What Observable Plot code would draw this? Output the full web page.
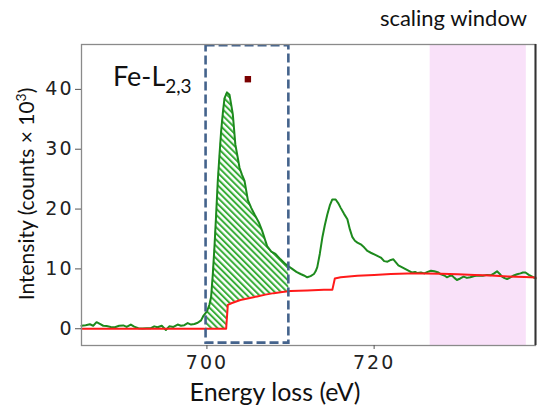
<!DOCTYPE html>
<html><head><meta charset="utf-8">
<script src="https://cdn.jsdelivr.net/npm/d3@7"></script>
<script src="https://cdn.jsdelivr.net/npm/@observablehq/plot@0.6"></script>
<style>
body{margin:0;background:#fff;}
#chart{position:relative;width:540px;height:408px;}
</style>
</head><body><div id="chart"></div>
<script>
// Green: measured spectrum (energy eV, intensity counts x 10^3)
const greenE = [685.0,685.5,686.0,686.4,686.8,687.2,687.6,688.0,688.5,689.0,689.5,690.0,690.4,690.9,691.3,691.8,692.3,692.8,693.3,693.7,694.1,694.6,695.1,695.5,696.0,696.5,696.9,697.3,697.7,698.1,698.5,698.9,699.3,699.6,700.0,700.3,700.5,700.7,700.9,701.1,701.3,701.5,701.7,701.9,702.1,702.4,702.7,702.9,703.1,703.4,703.7,703.9,704.2,704.5,704.9,705.3,705.7,706.2,706.6,707.2,707.7,708.2,708.8,709.4,709.8,710.2,710.7,711.2,711.6,712.0,712.4,712.8,713.0,713.2,713.5,713.8,714.1,714.4,714.7,715.0,715.4,715.7,716.0,716.4,716.8,717.1,717.4,717.7,718.0,718.4,718.8,719.2,719.6,720.2,720.8,721.2,721.6,722.0,722.3,722.6,722.9,723.3,723.7,724.1,724.5,724.9,725.2,725.6,726.0,726.4,726.8,727.2,727.6,728.0,728.4,728.7,729.0,729.3,729.6,729.9,730.3,730.7,731.1,731.5,732.0,732.5,733.0,733.5,734.0,734.4,734.7,735.0,735.3,735.6,735.9,736.3,736.7,737.1,737.5,737.8,738.1,738.5,738.9,739.3];
const greenI = [0.5,0.6,0.75,0.5,1.1,0.8,0.5,0.45,0.3,0.25,0.5,0.55,0.3,0.7,0.35,0.1,0.05,0.1,0.1,0.4,0.25,0.5,-0.2,0.4,0.3,0.7,0.5,0.6,0.95,0.7,0.8,1.0,1.4,2.2,2.9,4.0,5.3,9.0,13.6,19.0,24.7,29.0,33.0,36.0,38.5,39.5,39.1,37.5,35.8,30.8,28.5,26.9,25.7,24.7,21.5,20.2,19.1,17.8,16.4,13.8,12.9,12.5,11.6,10.8,10.4,10.0,9.5,9.15,8.9,8.6,8.8,9.15,9.6,10.3,12.5,15.2,17.3,19.1,20.6,21.6,21.6,21.0,20.2,19.2,18.3,16.6,15.3,14.7,14.4,14.1,13.6,13.0,12.7,12.3,11.9,11.3,11.2,11.5,11.6,11.1,10.6,10.3,10.0,9.7,9.4,9.5,9.3,9.4,9.25,9.5,9.7,9.6,9.45,9.1,8.9,8.6,8.8,8.9,8.5,8.15,8.4,8.7,8.5,8.6,8.8,8.9,8.85,9.0,8.95,9.3,9.6,9.2,8.7,8.45,8.3,8.6,8.9,9.1,9.25,9.4,9.4,9.0,8.7,8.4];
// Red: fitted background
const redE = [685.0,702.3,702.5,703.0,704.0,705.0,706.0,707.0,708.0,709.0,710.0,712.0,714.0,715.0,715.3,716.0,718.0,720.0,722.0,724.0,726.0,728.0,730.0,732.0,734.0,736.0,738.0,739.3];
const redI = [0,0,4.0,4.3,4.8,5.1,5.4,5.7,5.95,6.15,6.3,6.4,6.5,6.5,8.4,8.6,8.85,9.0,9.15,9.25,9.25,9.2,9.1,9.0,8.9,8.75,8.65,8.55];
// Integration window, scaling window, marker
const integWin = [699.9, 709.8];
const scaleWin = [726.7, 738.2];
const markerPt = [{e: 704.9, i: 41.7}];
const xTicks = [700, 720];
const yTicks = [0, 10, 20, 30, 40];

const green = greenE.map((e, k) => ({e, i: greenI[k]}));
const red = redE.map((e, k) => ({e, i: redI[k]}));
const interp = (xs, ys, x) => {
  const k = d3.bisectRight(xs, x);
  if (k <= 0) return ys[0];
  if (k >= xs.length) return ys[xs.length - 1];
  const t = (x - xs[k-1]) / (xs[k] - xs[k-1]);
  return ys[k-1] + t * (ys[k] - ys[k-1]);
};
// hatched region between the two curves inside the integration window
const cuts = Array.from(new Set([
  integWin[0], integWin[1],
  ...greenE.filter(e => e > integWin[0] && e < integWin[1]),
  ...redE.filter(e => e > integWin[0] && e < integWin[1])
])).sort((a, b) => a - b);
const hatch = cuts.map(e => ({e, g: interp(greenE, greenI, e), r: interp(redE, redI, e)}));

const yDom = [-2.8, 47.5];
const chart = Plot.plot({
  width: 540, height: 408,
  marginLeft: 81, marginRight: 5, marginTop: 44, marginBottom: 63,
  style: {fontFamily: "DejaVu Sans", background: "white", overflow: "visible"},
  x: {domain: [685, 739.3], label: null},
  y: {domain: yDom, label: null},
  marks: [
    Plot.rectY([scaleWin], {x1: d => d[0], x2: d => d[1], y1: yDom[0], y2: yDom[1], fill: "#f9e1f9"}),
    Plot.areaY(hatch, {x: "e", y1: "r", y2: "g", fill: "url(#hatchPat)"}),
    Plot.line(green, {x: "e", y: "i", stroke: "#1d8a1d", strokeWidth: 2}),
    Plot.line(red, {x: "e", y: "i", stroke: "#ff1a1a", strokeWidth: 2}),
    Plot.rect([integWin], {x1: d => d[0], x2: d => d[1], y1: 47.3, y2: -2.4, fill: "none", stroke: "#44638c", strokeWidth: 2.6, strokeDasharray: "9,4"}),
    Plot.dot(markerPt, {x: "e", y: "i", symbol: "square", r: 3.6, fill: "#7a0000"}),
    Plot.frame({stroke: "#8a8a8a", strokeWidth: 1.3}),
    Plot.ruleX([739.3], {stroke: "#333", strokeWidth: 2}),
    Plot.axisX({ticks: xTicks, tickSize: 4, tickPadding: 6, fontSize: 19, fill: "#222", label: null, stroke: "#555"}),
    Plot.axisY({ticks: yTicks, tickSize: 6, tickPadding: 2, fontSize: 19, fill: "#222", label: null, stroke: "#555"})
  ]
});
const svg = d3.select(chart);
svg.insert("defs", ":first-child").html(
  '<pattern id="hatchPat" patternUnits="userSpaceOnUse" width="4.4" height="4.4" patternTransform="rotate(-45)">' +
  '<rect width="4.4" height="4.4" fill="white"/><rect width="2" height="4.4" fill="#38ad38"/></pattern>');
// enforce tick label styling
svg.selectAll('g[aria-label="x-axis tick label"] text, g[aria-label="y-axis tick label"] text')
  .attr("font-size", 19).attr("letter-spacing", 2).attr("font-family", "DejaVu Sans").attr("fill", "#222");
svg.selectAll('g[aria-label="x-axis tick label"], g[aria-label="y-axis tick label"]')
  .attr("font-size", 19);
svg.append("text").attr("x", 275).attr("y", 401).attr("text-anchor", "middle")
  .attr("font-family", "Lato").attr("font-size", 25).attr("fill", "#111").text("Energy loss (eV)");
const yl = svg.append("text").attr("transform", "translate(34,194) rotate(-90)").attr("text-anchor", "middle")
  .attr("font-family", "Lato").attr("font-size", 21).attr("fill", "#111");
yl.append("tspan").text("Intensity (counts × 10");
yl.append("tspan").attr("dy", -8).attr("font-size", 14).text("3");
yl.append("tspan").attr("dy", 8).text(")");
svg.append("text").attr("x", 527).attr("y", 26).attr("text-anchor", "end")
  .attr("font-family", "Lato").attr("font-size", 22).attr("fill", "#111").text("scaling window");
const fe = svg.append("text").attr("x", 113).attr("y", 86).attr("text-anchor", "start")
  .attr("font-family", "Lato").attr("font-size", 27).attr("fill", "#111");
fe.append("tspan").text("Fe-L");
fe.append("tspan").attr("dy", 7).attr("font-size", 19).text("2,3");
document.getElementById("chart").appendChild(chart);
</script></body></html>
